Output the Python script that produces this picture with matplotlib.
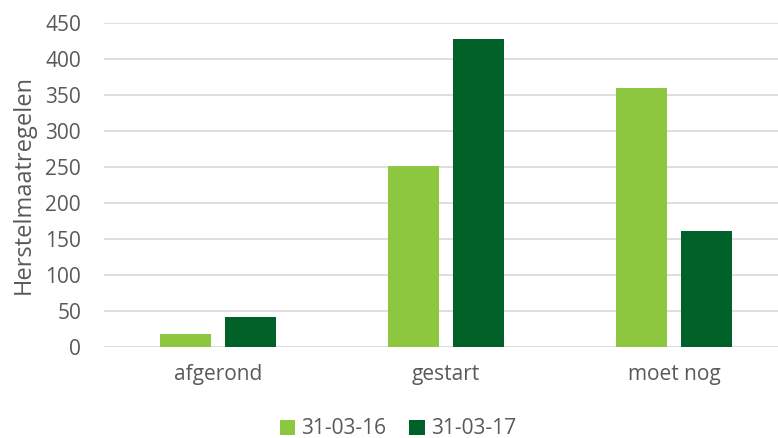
import numpy as np
import matplotlib
matplotlib.use("Agg")
from matplotlib import pyplot as plt

categories = ["afgerond", "gestart", "moet nog"]
series_names = ["31-03-16", "31-03-17"]
values_2016 = [18, 252, 360]
values_2017 = [41, 428, 161]
colors = ["#8DC63F", "#006229"]

plt.rcParams["font.family"] = ["Open Sans", "DejaVu Sans"]
text_color = "#595959"

fig = plt.figure(figsize=(7.78, 4.38), dpi=100)
# plot area runs a little past the right edge, like the original
ax = fig.add_axes([104 / 778, (438 - 347) / 438, 684 / 778, 324 / 438])

x = np.arange(len(categories))
width = 0.224
offset = 0.1415
ax.bar(x - offset, values_2016, width, color=colors[0], label=series_names[0], zorder=3)
ax.bar(x + offset, values_2017, width, color=colors[1], label=series_names[1], zorder=3)

ax.set_xlim(-0.5, 2.5)
ax.set_ylim(0, 450)
ax.set_yticks(range(0, 451, 50))
ax.set_xticks(x)
ax.set_xticklabels(categories)
ax.grid(axis="y", color="#D9D9D9", lw=1.2, zorder=0)
for s in ax.spines.values():
    s.set_visible(False)
ax.axhline(0, color="#D9D9D9", lw=1.2, zorder=1)
ax.tick_params(axis="both", length=0, labelsize=15, colors=text_color)
ax.tick_params(axis="y", pad=16.5)
ax.tick_params(axis="x", pad=12)
ax.set_ylabel("Herstelmaatregelen", fontsize=17, color=text_color, labelpad=7)

fig.legend(loc="center", bbox_to_anchor=(398 / 778, 1 - 429 / 438), ncol=2,
           frameon=False, fontsize=15, labelcolor=text_color,
           handlelength=0.75, handleheight=0.75, handletextpad=0.3, columnspacing=1.1,
           borderaxespad=0, borderpad=0)

fig.savefig("out.png", dpi=100)
